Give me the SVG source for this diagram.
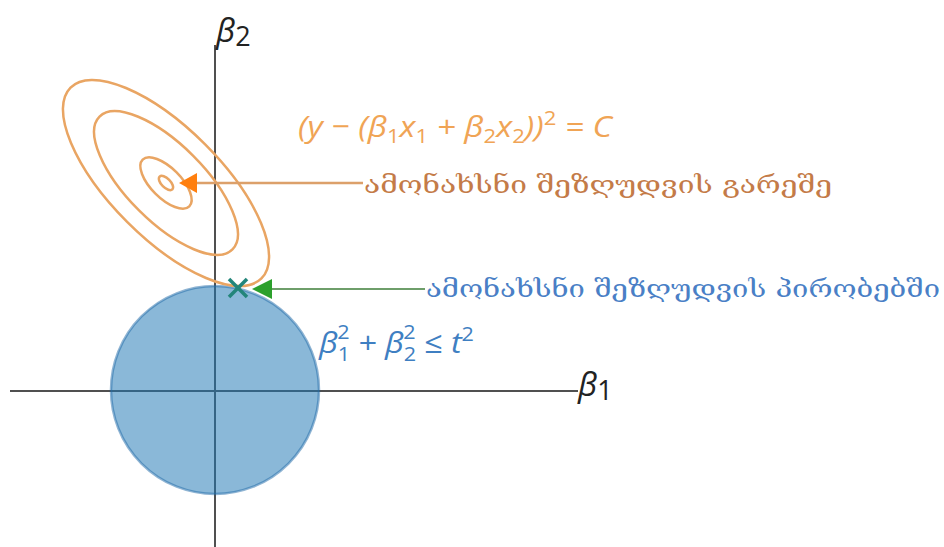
<svg xmlns="http://www.w3.org/2000/svg" width="944" height="547" viewBox="0 0 944 547">
<style>
.axis{stroke:#505050;stroke-width:2;fill:none}
.contour{fill:none;stroke:#e9a563;stroke-width:2.5}
.math{font-family:"Open Sans","DejaVu Sans",sans-serif;font-style:italic}
.up{font-style:normal}
.geo{font-family:"DejaVu Serif","DejaVu Sans",serif}
</style>
<rect width="944" height="547" fill="#ffffff"/>
<g id="axes">
<line class="axis" x1="215" y1="45" x2="215" y2="547"/>
<line class="axis" x1="10" y1="391" x2="578" y2="391"/>
</g>
<g id="constraint-region">
<circle cx="215" cy="390" r="104" fill="#1f77b4" fill-opacity="0.52" stroke="#1f6aa8" stroke-opacity="0.5" stroke-width="2.5"/>
</g>
<g id="contours" transform="translate(166,183) rotate(45)">
<ellipse class="contour" cx="0" cy="0" rx="135" ry="55"/>
<ellipse class="contour" cx="0" cy="0" rx="94" ry="38.5"/>
<ellipse class="contour" cx="0" cy="0" rx="33" ry="15"/>
<ellipse class="contour" cx="0" cy="0" rx="9" ry="4.5"/>
</g>
<g id="connectors">
<line x1="195" y1="183" x2="363" y2="183" stroke="#dca06a" stroke-width="2.5"/>
<polygon points="179,183 197,173 197,193" fill="#ff7f0e"/>
<line x1="270" y1="289" x2="425" y2="289" stroke="#6e9e6a" stroke-width="2"/>
<polygon points="252,289 272,279 272,299" fill="#2ca02c"/>
</g>
<g id="constrained-solution">
<line x1="229" y1="279" x2="247" y2="297" stroke="#23857a" stroke-width="3.5"/>
<line x1="247" y1="279" x2="229" y2="297" stroke="#23857a" stroke-width="3.5"/>
</g>
<g id="labels">
<text class="math" x="216" y="42" font-size="33" fill="#222">β<tspan class="up" font-size="27" dy="4">2</tspan></text>
<text class="math" x="578" y="396" font-size="33" fill="#222">β<tspan class="up" font-size="27" dy="4">1</tspan></text>
<text class="math" x="298" y="137" font-size="30" fill="#f0a455" textLength="314" lengthAdjust="spacingAndGlyphs">(y − (β<tspan class="up" font-size="20" dy="6">1</tspan><tspan dy="-6">x</tspan><tspan class="up" font-size="20" dy="6">1</tspan><tspan dy="-6"> + β</tspan><tspan class="up" font-size="20" dy="6">2</tspan><tspan dy="-6">x</tspan><tspan class="up" font-size="20" dy="6">2</tspan><tspan dy="-6">))</tspan><tspan class="up" font-size="20" dy="-12">2</tspan><tspan dy="12"> = C</tspan></text>
<text class="math" x="319" y="353" font-size="30" fill="#3f7fc2" textLength="155" lengthAdjust="spacingAndGlyphs">β<tspan class="up" font-size="20" dy="8">1</tspan><tspan class="up" font-size="20" dx="-12" dy="-22">2</tspan><tspan dy="14"> + β</tspan><tspan class="up" font-size="20" dy="8">2</tspan><tspan class="up" font-size="20" dx="-12" dy="-22">2</tspan><tspan class="up" dy="14"> ≤ </tspan>t<tspan class="up" font-size="20" dy="-12">2</tspan></text>
<text class="geo" x="364" y="193" font-size="24" fill="#c47b48" textLength="468" lengthAdjust="spacingAndGlyphs">ამონახსნი შეზღუდვის გარეშე</text>
<text class="geo" x="426" y="297" font-size="24" fill="#4a7fc6" textLength="514" lengthAdjust="spacingAndGlyphs">ამონახსნი შეზღუდვის პირობებში</text>
</g>
</svg>
